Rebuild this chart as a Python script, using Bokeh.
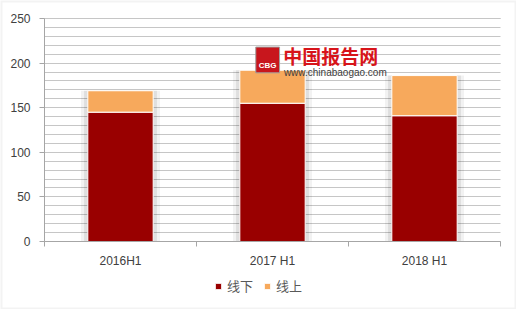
from bokeh.plotting import figure
from bokeh.models import FixedTicker, Legend, LegendItem, Label, ColumnDataSource, BoxAnnotation
from bokeh.embed import file_html
from bokeh.resources import INLINE

categories = ["2016H1", "2017 H1", "2018 H1"]
offline = [145, 155, 141]   # 线下
online = [24, 37, 45]       # 线上
series_names = ["线下", "线上"]
colors = ["#990000", "#f7a95c"]

xs = [i + 0.5 for i in range(len(categories))]
totals = [a + b for a, b in zip(offline, online)]

src = ColumnDataSource(dict(x=xs, off=offline, tot=totals))

# the frame fills the whole chart box; the axes are drawn at fixed locations
p = figure(width=516, height=309, x_range=(-0.28947, 3.10526), y_range=(-76.23, 270.18),
           output_backend="svg", toolbar_location=None,
           min_border_left=0, min_border_right=0, min_border_top=0, min_border_bottom=0)
p.background_fill_color = "white"
p.border_fill_color = "white"
p.outline_line_color = None

# bar shadows
p.vbar(x="x", top="tot", bottom=0, width=0.52, source=src, fill_color="#000000",
       fill_alpha=0.05, line_color=None)
p.vbar(x="x", top="tot", bottom=0, width=0.48, source=src, fill_color="#000000",
       fill_alpha=0.08, line_color=None)

r1 = p.vbar(x="x", top="off", bottom=0, width=0.43, source=src, fill_color=colors[0],
            line_color="white", line_width=1)
r2 = p.vbar(x="x", top="tot", bottom="off", width=0.43, source=src, fill_color=colors[1],
            line_color="white", line_width=1)

# axes
p.xaxis.fixed_location = 0
p.xaxis.bounds = (0, 3)
p.xaxis.ticker = FixedTicker(ticks=xs, minor_ticks=[0, 1, 2, 3])
p.xaxis.major_label_overrides = {x: c for x, c in zip(xs, categories)}
p.xaxis.major_tick_line_color = None
p.xaxis.major_tick_out = 5
p.xaxis.minor_tick_in = 0
p.xaxis.minor_tick_out = 5
p.xaxis.minor_tick_line_color = "#a6a6a6"
p.xaxis.axis_line_color = "#a6a6a6"
p.xaxis.major_label_standoff = 7

p.yaxis.fixed_location = 0
p.yaxis.bounds = (0, 250)
p.yaxis.ticker = FixedTicker(ticks=[0, 50, 100, 150, 200, 250],
                             minor_ticks=list(range(0, 251, 10)))
p.yaxis.major_tick_in = 0
p.yaxis.major_tick_out = 5
p.yaxis.minor_tick_line_color = None
p.yaxis.major_tick_line_color = "#a6a6a6"
p.yaxis.axis_line_color = "#a6a6a6"
p.yaxis.major_label_standoff = 9

for ax in (p.xaxis, p.yaxis):
    ax.major_label_text_font = "Liberation Sans"
    ax.major_label_text_font_size = "12px"
    ax.major_label_text_color = "#404040"

p.xgrid.grid_line_color = None
yg = p.ygrid[0]
yg.grid_line_color = "#c6c6c6"
yg.minor_grid_line_color = "#c6c6c6"
yg.bounds = (0, 250)
if "cross_bounds" in yg.properties():
    yg.cross_bounds = (0, 3)

# chart box border
p.add_layout(BoxAnnotation(fill_alpha=0, line_color="#d6d6d6", line_width=4))

# watermark
p.add_layout(Label(x=1.39, y=218, text="\nCBG", text_font_size="8px", text_color="white",
                   text_font_style="bold", background_fill_color="#c8161d",
                   border_line_color="#a0a0a0", padding=3, text_baseline="top"))
p.add_layout(Label(x=1.57, y=208, text="中国报告网", text_font="Noto Sans CJK SC",
                   text_font_size="19px", text_font_style="bold", text_color="#d7141a",
                   text_baseline="middle"))
p.add_layout(Label(x=1.575, y=189, text="www.chinabaogao.com", text_font="Liberation Sans",
                   text_font_size="10px", text_color="#404040", text_baseline="middle"))

legend = Legend(items=[LegendItem(label=series_names[0], renderers=[r1]),
                       LegendItem(label=series_names[1], renderers=[r2])],
                location=(214, 14), orientation="horizontal",
                glyph_width=8, glyph_height=8, label_standoff=5, spacing=10,
                padding=0, margin=0, border_line_color=None, background_fill_alpha=0,
                label_text_font="Noto Sans CJK SC", label_text_font_size="13px",
                label_text_color="#595959")
p.add_layout(legend)

open("out.html", "w").write(file_html(p, INLINE))
